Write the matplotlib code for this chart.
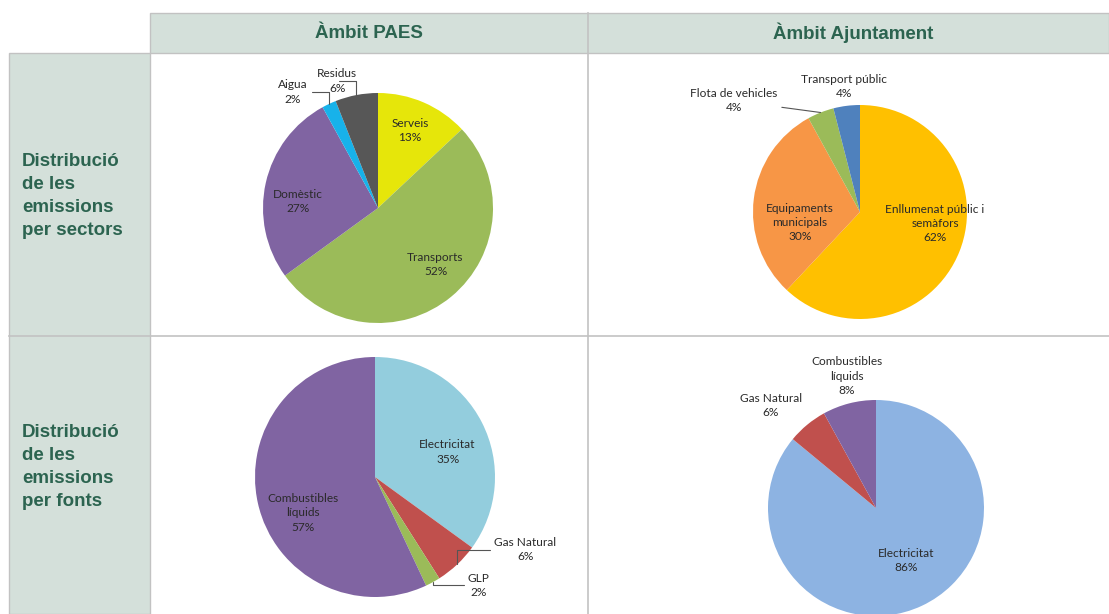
import numpy as np
import matplotlib.pyplot as plt
from matplotlib.patches import Rectangle

# Mida de la figura en píxels
W, H = 1109, 614

# Capçaleres de la taula
col_titles = ["Àmbit PAES", "Àmbit Ajuntament"]
row_titles = ["Distribució\nde les\nemissions\nper sectors",
              "Distribució\nde les\nemissions\nper fonts"]

# Dades de cada pastís
paes_sector_labels = ["Serveis", "Transports", "Domèstic", "Aigua", "Residus"]
paes_sector_values = [13, 52, 27, 2, 6]
paes_sector_colors = ["#e6e60a", "#9bbb59", "#8064a2", "#17b2ea", "#575757"]

ajunt_sector_labels = ["Enllumenat públic i\nsemàfors", "Equipaments\nmunicipals",
                       "Flota de vehicles", "Transport públic"]
ajunt_sector_values = [62, 30, 4, 4]
ajunt_sector_colors = ["#ffc000", "#f79646", "#9bbb59", "#4f81bd"]

paes_font_labels = ["Electricitat", "Gas Natural", "GLP", "Combustibles\nlíquids"]
paes_font_values = [35, 6, 2, 57]
paes_font_colors = ["#93cddd", "#c0504d", "#9bbb59", "#8064a2"]

ajunt_font_labels = ["Electricitat", "Gas Natural", "Combustibles\nlíquids"]
ajunt_font_values = [86, 6, 8]
ajunt_font_colors = ["#8db3e2", "#c0504d", "#8064a2"]

# Posició (centre x, centre y, radi) de cada pastís en píxels
PIE_LAYOUT = [(378, 208, 115), (860, 212, 107), (375, 477, 120), (876, 508, 108)]

# Col·locació de les etiquetes: (distància/radi, desviació angular, línia guia)
LABEL_LAYOUT = [
    [(0.73, 1, False), (0.70, 6, False), (0.70, 8, False), (1.25, 11, "angle"), (1.16, 7, "angle")],
    [(0.71, 13, False), (0.57, 17, False), (1.57, 27, "straight"), (1.18, 0, False)],
    [(0.64, -8, False), (1.39, 21, "angle"), (1.25, 15, "angle"), (0.67, 14, False)],
    [(0.56, 5, False), (1.36, 6, False), (1.25, -2, False)],
]

HEADER_BG = "#d4e0da"
TITLE_COLOR = "#2c6450"
BORDER = "#c2c2c2"
LABEL_FONT = ["Lato", "DejaVu Sans"]
LABEL_SIZE = 8.6

fig = plt.figure(figsize=(W / 100, H / 100), dpi=100)
ax = fig.add_axes([0, 0, 1, 1])


def py(y):
    # convertir y de píxel (des de dalt) a coordenada de dades
    return H - y


def draw_pie(ax, values, labels, colors, layout, labels_layout):
    cx, cy, r = layout
    wedges, _ = ax.pie(values, colors=colors, startangle=90, counterclock=False,
                       center=(cx, py(cy)), radius=r,
                       wedgeprops=dict(linewidth=0, zorder=3))
    for w, name, val, (d, shift, leader) in zip(wedges, labels, values, labels_layout):
        mid = np.deg2rad((w.theta1 + w.theta2) / 2)
        ang = mid + np.deg2rad(shift)
        tx = cx + r * d * np.cos(ang)
        ty = py(cy) + r * d * np.sin(ang)
        txt = f"{name}\n{val}%"
        style = dict(ha="center", va="center", fontsize=LABEL_SIZE, color="#2a2a2a",
                     family=LABEL_FONT, linespacing=1.35, zorder=5)
        if leader:
            ex = cx + r * np.cos(mid)
            ey = py(cy) + r * np.sin(mid)
            conn = "angle,angleA=0,angleB=90,rad=0" if leader == "angle" else "arc3"
            ax.annotate(txt, xy=(ex, ey), xytext=(tx, ty),
                        arrowprops=dict(arrowstyle="-", color="#555555", lw=0.8,
                                        shrinkA=1, shrinkB=0, connectionstyle=conn),
                        **style)
        else:
            ax.text(tx, ty, txt, **style)


# Fons de la taula
ax.add_patch(Rectangle((150, py(53)), W - 150, 40, facecolor=HEADER_BG,
                       edgecolor=BORDER, lw=1, zorder=1))
ax.add_patch(Rectangle((9, 0), 141, py(53), facecolor=HEADER_BG,
                       edgecolor=BORDER, lw=1, zorder=1))
ax.plot([9, W], [py(336), py(336)], color=BORDER, lw=1.2, zorder=2)
ax.plot([588, 588], [0, py(13)], color=BORDER, lw=1.2, zorder=2)

for x, title in zip([369, 853], col_titles):
    ax.text(x, py(33), title, ha="center", va="center", fontsize=13.5,
            fontweight="bold", color=TITLE_COLOR, family="Liberation Sans", zorder=4)

for y, title in zip([196, 467], row_titles):
    ax.text(22, py(y), title, ha="left", va="center", fontsize=13.5,
            fontweight="bold", color=TITLE_COLOR, family="Liberation Sans",
            linespacing=1.45, zorder=4)

draw_pie(ax, paes_sector_values, paes_sector_labels, paes_sector_colors,
         PIE_LAYOUT[0], LABEL_LAYOUT[0])
draw_pie(ax, ajunt_sector_values, ajunt_sector_labels, ajunt_sector_colors,
         PIE_LAYOUT[1], LABEL_LAYOUT[1])
draw_pie(ax, paes_font_values, paes_font_labels, paes_font_colors,
         PIE_LAYOUT[2], LABEL_LAYOUT[2])
draw_pie(ax, ajunt_font_values, ajunt_font_labels, ajunt_font_colors,
         PIE_LAYOUT[3], LABEL_LAYOUT[3])

ax.set_xlim(0, W)
ax.set_ylim(0, H)
ax.set_aspect("auto")
ax.axis("off")

fig.savefig("out.png", dpi=100)
